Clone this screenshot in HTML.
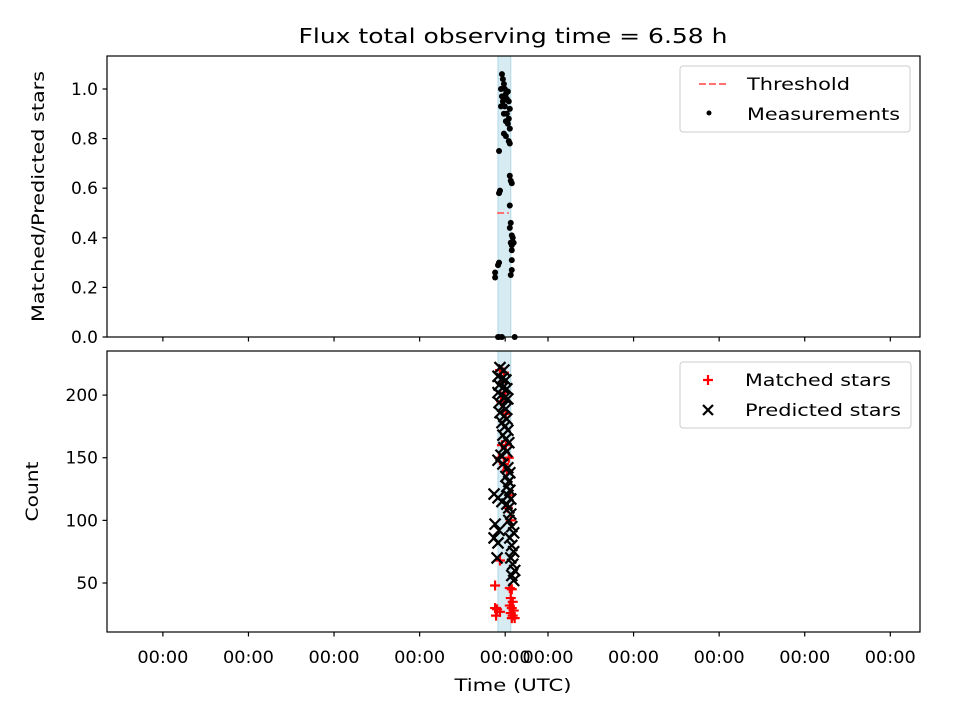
<!DOCTYPE html>
<html><head><meta charset="utf-8"><style>
body{margin:0;background:#fff}
svg text{font-family:"DejaVu Sans","Liberation Sans",sans-serif;fill:#000}
</style></head><body>
<svg id="c" width="960" height="720" viewBox="0 0 960 720" xmlns="http://www.w3.org/2000/svg">
<text x="513" y="43" font-size="20.5" text-anchor="middle" textLength="429" lengthAdjust="spacingAndGlyphs">Flux total observing time = 6.58 h</text>
<g id="topG"></g>
<g id="botG"></g>
</svg>
<script>
const xTicks=[0,1,2,3,4,4.5,5.5,6.5,7.5,8.5];
const xTickLabels=["00:00","00:00","00:00","00:00","00:00","00:00","00:00","00:00","00:00","00:00"];
const bandRange=[3.916,4.065];
const thresholdRange=[3.905,4.042];
const thresholdValue=0.5;
const topTicks=[0,0.2,0.4,0.6,0.8,1.0];
const botTicks=[50,100,150,200];
const measTime=[3.962,3.973,3.985,3.951,3.996,4.008,3.962,4.031,4.019,3.973,4.042,3.996,3.951,4.054,3.985,4.019,4.042,4.008,4.031,4.054,3.985,4.008,4.042,4.054,3.928,4.054,4.065,4.077,3.928,3.939,4.054,4.065,4.054,4.077,4.088,4.065,4.077,4.099,4.077,4.077,4.077,4.065,3.928,3.916,3.882,3.882,3.916,3.928,3.962,4.111];
const measValue=[1.06,1.04,1.02,1.0,1.0,0.98,0.97,0.99,0.96,0.95,0.95,0.93,0.93,0.92,0.9,0.9,0.88,0.87,0.86,0.84,0.82,0.81,0.79,0.78,0.75,0.65,0.63,0.62,0.58,0.59,0.53,0.46,0.44,0.41,0.4,0.38,0.37,0.38,0.35,0.31,0.27,0.25,0.3,0.29,0.26,0.24,0,0,0,0];
const predTime=[3.939,3.985,3.916,3.962,4.008,3.928,3.973,4.019,3.916,3.951,3.996,4.031,3.928,3.973,4.008,3.939,3.985,4.019,3.962,3.996,4.031,3.973,4.008,4.042,3.985,4.019,3.951,3.916,3.973,4.031,4.054,4.008,4.042,4.019,4.054,4.031,4.065,4.019,3.870,3.916,3.962,4.042,4.065,3.882,3.928,4.042,4.077,4.099,3.870,3.916,4.054,4.077,4.099,3.905,4.065,4.088,4.111,4.077,4.099];
const predCount=[222,220,215,213,212,208,206,205,202,200,198,197,194,191,189,186,183,181,178,175,172,168,165,162,158,155,152,148,145,142,138,135,131,127,124,120,117,113,121,118,115,110,105,97,92,100,95,90,86,82,86,80,75,70,70,65,60,56,52];
const matchTime=[3.939,3.985,3.962,3.996,3.951,4.008,3.962,3.928,3.985,4.019,4.054,4.031,4.065,3.939,3.882,3.882,3.905,3.893,3.939,4.054,4.077,4.065,4.088,4.054,4.077,4.099,4.065,4.088,4.077,4.111,4.042,4.008];
const matchCount=[220,218,210,202,195,185,160,150,145,140,120,110,100,68,48,30,29,24,27,46,45,38,35,32,30,28,26,24,22,22,150,160];

const NS="http://www.w3.org/2000/svg";
const X0=107,X1=920,xMin=-0.653,xMax=8.847;
const xs=v=>X0+(v-xMin)/(xMax-xMin)*(X1-X0);
const TP={y0:56,y1:337,min:0,max:1.133};
const BP={y0:351,y1:632,min:10.9,max:235.2};
const ys=(p,v)=>p.y1-(v-p.min)/(p.max-p.min)*(p.y1-p.y0);
function mk(par,tag,at){const e=document.createElementNS(NS,tag);for(const k in at)e.setAttribute(k,at[k]);par.appendChild(e);return e;}
const topG=document.getElementById('topG'),botG=document.getElementById('botG');
const FS=17;

function panel(g,p,ticks,fmt,label,lx,len){
  const band=mk(g,'rect',{x:xs(bandRange[0]),y:p.y0,width:xs(bandRange[1])-xs(bandRange[0]),height:p.y1-p.y0,fill:'#add8e6','fill-opacity':0.5,stroke:'#add8e6','stroke-width':1});
  
  
  ticks.forEach(t=>{
    const y=ys(p,t);
    const l=mk(g,'line',{x1:X0-4.5,x2:X0,y1:y,y2:y,stroke:'#000','stroke-width':1.2});
    
    
    const tx=mk(g,'text',{x:X0-9,y:y+6,'font-size':FS,'text-anchor':'end'});
    tx.textContent=fmt(t);
    
    
  });
  xTicks.forEach(t=>{
    const l=mk(g,'line',{x1:xs(t),x2:xs(t),y1:p.y1,y2:p.y1+4.5,stroke:'#000','stroke-width':1.2});
    
    
  });
  const cy=(p.y0+p.y1)/2;
  const yl=mk(g,'text',{x:lx,y:cy,'font-size':FS,'text-anchor':'middle',textLength:len,lengthAdjust:'spacingAndGlyphs',transform:`rotate(-90 ${lx} ${cy})`});
  yl.textContent=label;
  
  
}
panel(topG,TP,topTicks,v=>v.toFixed(1),'Matched/Predicted stars',44,251);
panel(botG,BP,botTicks,v=>String(v),'Count',38,60);

const th=mk(topG,'line',{x1:xs(thresholdRange[0]),x2:xs(thresholdRange[1]),y1:ys(TP,thresholdValue),y2:ys(TP,thresholdValue),stroke:'#ff7070','stroke-width':2,'stroke-dasharray':'7,3'});


measTime.forEach((t,i)=>{
  const c=mk(topG,'circle',{cx:xs(t),cy:ys(TP,measValue[i]),r:3,fill:'#000'});
  
  
});
matchTime.forEach((t,i)=>{
  const x=xs(t),y=ys(BP,matchCount[i]);
  const c=mk(botG,'path',{d:`M${x-5},${y}H${x+5}M${x},${y-5}V${y+5}`,stroke:'#f00','stroke-width':2.2});
  
  
});
predTime.forEach((t,i)=>{
  const x=xs(t),y=ys(BP,predCount[i]);
  const c=mk(botG,'path',{d:`M${x-5.5},${y-5.5}L${x+5.5},${y+5.5}M${x-5.5},${y+5.5}L${x+5.5},${y-5.5}`,stroke:'#000','stroke-width':2.2});
  
  
});
[TP,BP].forEach((p,k)=>{
  const r=mk(k?botG:topG,'rect',{x:X0,y:p.y0,width:X1-X0,height:p.y1-p.y0,fill:'none',stroke:'#000','stroke-width':1.2});
  
  
});
xTicks.forEach((t,i)=>{
  const tx=mk(botG,'text',{x:xs(t),y:663,'font-size':FS,'text-anchor':'middle',textLength:51,lengthAdjust:'spacingAndGlyphs'});
  tx.textContent=xTickLabels[i];
  
  
});
const xl=mk(botG,'text',{x:513,y:691,'font-size':FS,'text-anchor':'middle',textLength:117,lengthAdjust:'spacingAndGlyphs'});
xl.textContent='Time (UTC)';



function legend(g,y,w,items){
  const x=680;
  const r=mk(g,'rect',{x:x,y:y,width:w,height:66,rx:3,fill:'#fff','fill-opacity':0.8,stroke:'#ccc'});
  
  
  items.forEach((it,i)=>{
    const cy=y+18+i*30;
    it.draw(x+28,cy);
    const tx=mk(g,'text',{x:x+it.tx,y:cy+6,'font-size':FS,textLength:it.len,lengthAdjust:'spacingAndGlyphs'});
    tx.textContent=it.label;
    
    
  });
}
legend(topG,66,230,[
 {label:'Threshold',tx:67,len:103,draw:(x,y)=>{const l=mk(topG,'line',{x1:x-9,x2:x+21,y1:y,y2:y,stroke:'#ff7070','stroke-width':2,'stroke-dasharray':'7,3'});}},
 {label:'Measurements',tx:67,len:153,draw:(x,y)=>{const c=mk(topG,'circle',{cx:x+1,cy:y-1,r:2.5,fill:'#000'});}}
]);
legend(botG,362,231,[
 {label:'Matched stars',tx:65,len:146,draw:(x,y)=>{const c=mk(botG,'path',{d:`M${x-5},${y}H${x+5}M${x},${y-5}V${y+5}`,stroke:'#f00','stroke-width':2.2});}},
 {label:'Predicted stars',tx:65,len:156,draw:(x,y)=>{const c=mk(botG,'path',{d:`M${x-5},${y-5}L${x+5},${y+5}M${x-5},${y+5}L${x+5},${y-5}`,stroke:'#000','stroke-width':2.2});}}
]);
</script>
</body></html>
